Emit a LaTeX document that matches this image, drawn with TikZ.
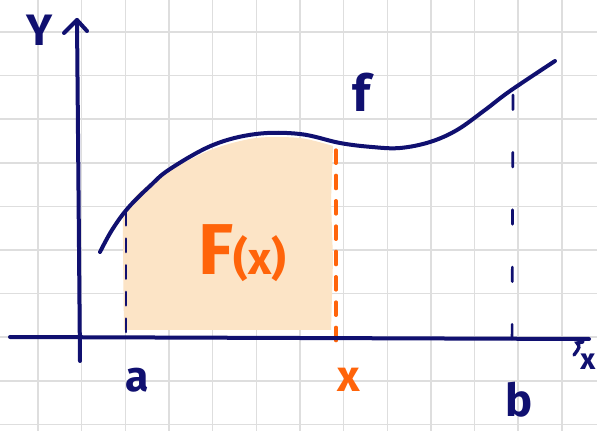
\documentclass[tikz,border=0pt]{standalone}
\usepackage{fontspec}
\setmainfont{Fira Sans}
\definecolor{navy}{RGB}{16,16,112}
\definecolor{hand}{RGB}{255,100,10}
\definecolor{areafill}{RGB}{252,228,198}
\definecolor{gridc}{RGB}{222,222,222}
\tikzset{
  axis/.style={navy,line width=3pt,line cap=round,line join=round},
  curve/.style={navy,line width=3pt,line cap=round},
  dashb/.style={navy,line width=2pt,line cap=round,dash pattern=on 10 off 10},
  dasho/.style={hand,line width=2.4pt,line cap=round,dash pattern=on 10 off 9},
  lbl/.style={navy,font=\bfseries},
  olbl/.style={hand,font=\bfseries}
}
\begin{document}
\begin{tikzpicture}[x=0.75pt,y=-0.75pt]
\useasboundingbox (0,0) rectangle (597,431);
\clip (0,0) rectangle (597,431);
\fill[white] (0,0) rectangle (597,431);
% grid
\foreach \k in {0,...,14} {
  \draw[gridc,line width=1.1pt] ({-5.6+43.65*\k},0) -- ({-5.6+43.65*\k},431);
}
\foreach \k in {0,...,10} {
  \draw[gridc,line width=1.1pt] (0,{-11.6+43.6*\k}) -- (597,{-11.6+43.6*\k});
}
% area under the curve
\fill[areafill] plot[smooth] coordinates {(124,330) (123,240) (124,214) (136,196) (152,182) (172,169) (213,149) (256,138) (300,138) (333,146)}
  -- (331,200) -- (333,260) -- (331,330) -- cycle;
% curve f
\draw[curve] plot[smooth,tension=0.6] coordinates {(100,252) (112,230) (128,208) (150,186) (170,169) (213,145) (256,134) (300,134) (340,143) (372,147) (400,148) (430,142) (457,130) (485,110) (510,91) (555,61)};
% dashed lines
\coordinate (a1) at (126,212); \coordinate (a2) at (126,337);
\coordinate (x1) at (336,150); \coordinate (x2) at (336,352);
\coordinate (b1) at (513,95);  \coordinate (b2) at (512,355);
\draw[dashb] (a1) -- (a2);
\draw[dasho] (x1) -- (x2);
\draw[navy,line width=2pt,line cap=round,dash pattern=on 11 off 32] (b1) -- (b2);
% axes
\coordinate (ytop) at (77,20); \coordinate (ybot) at (80,361);
\coordinate (xl) at (10,337); \coordinate (xr) at (589,339);
\draw[axis] (ybot) -- (ytop);
\draw[axis] (64,33) -- (ytop) -- (87,31);
\draw[axis] (xl) -- (xr);
\draw[navy,line width=2.5pt,line cap=round] (583,342) -- (577,343) .. controls (580,347) .. (574,355);
% labels
\node[lbl,font=\bfseries\fontsize{33}{33}\selectfont] (ylab) at (40,30) {Y};
\node[lbl,font=\bfseries\fontsize{38}{38}\selectfont] (flab) at (362,92) {f};
\node[lbl,font=\bfseries\fontsize{32}{32}\selectfont] (alab) at (137,380) {a};
\node[lbl,font=\bfseries\fontsize{34}{34}\selectfont] (blab) at (519,400) {b};
\node[olbl,font=\bfseries\fontsize{33}{33}\selectfont] (xlab) at (349,380) {x};
\node[lbl,font=\bfseries\fontsize{22}{22}\selectfont,inner sep=0pt] (xax) at (588,362) {x};
\node[olbl,anchor=base west] (Flab) at (194,275) {{\fontsize{54}{54}\selectfont F}{\fontsize{34}{34}\selectfont(x)}};
\end{tikzpicture}
\end{document}
